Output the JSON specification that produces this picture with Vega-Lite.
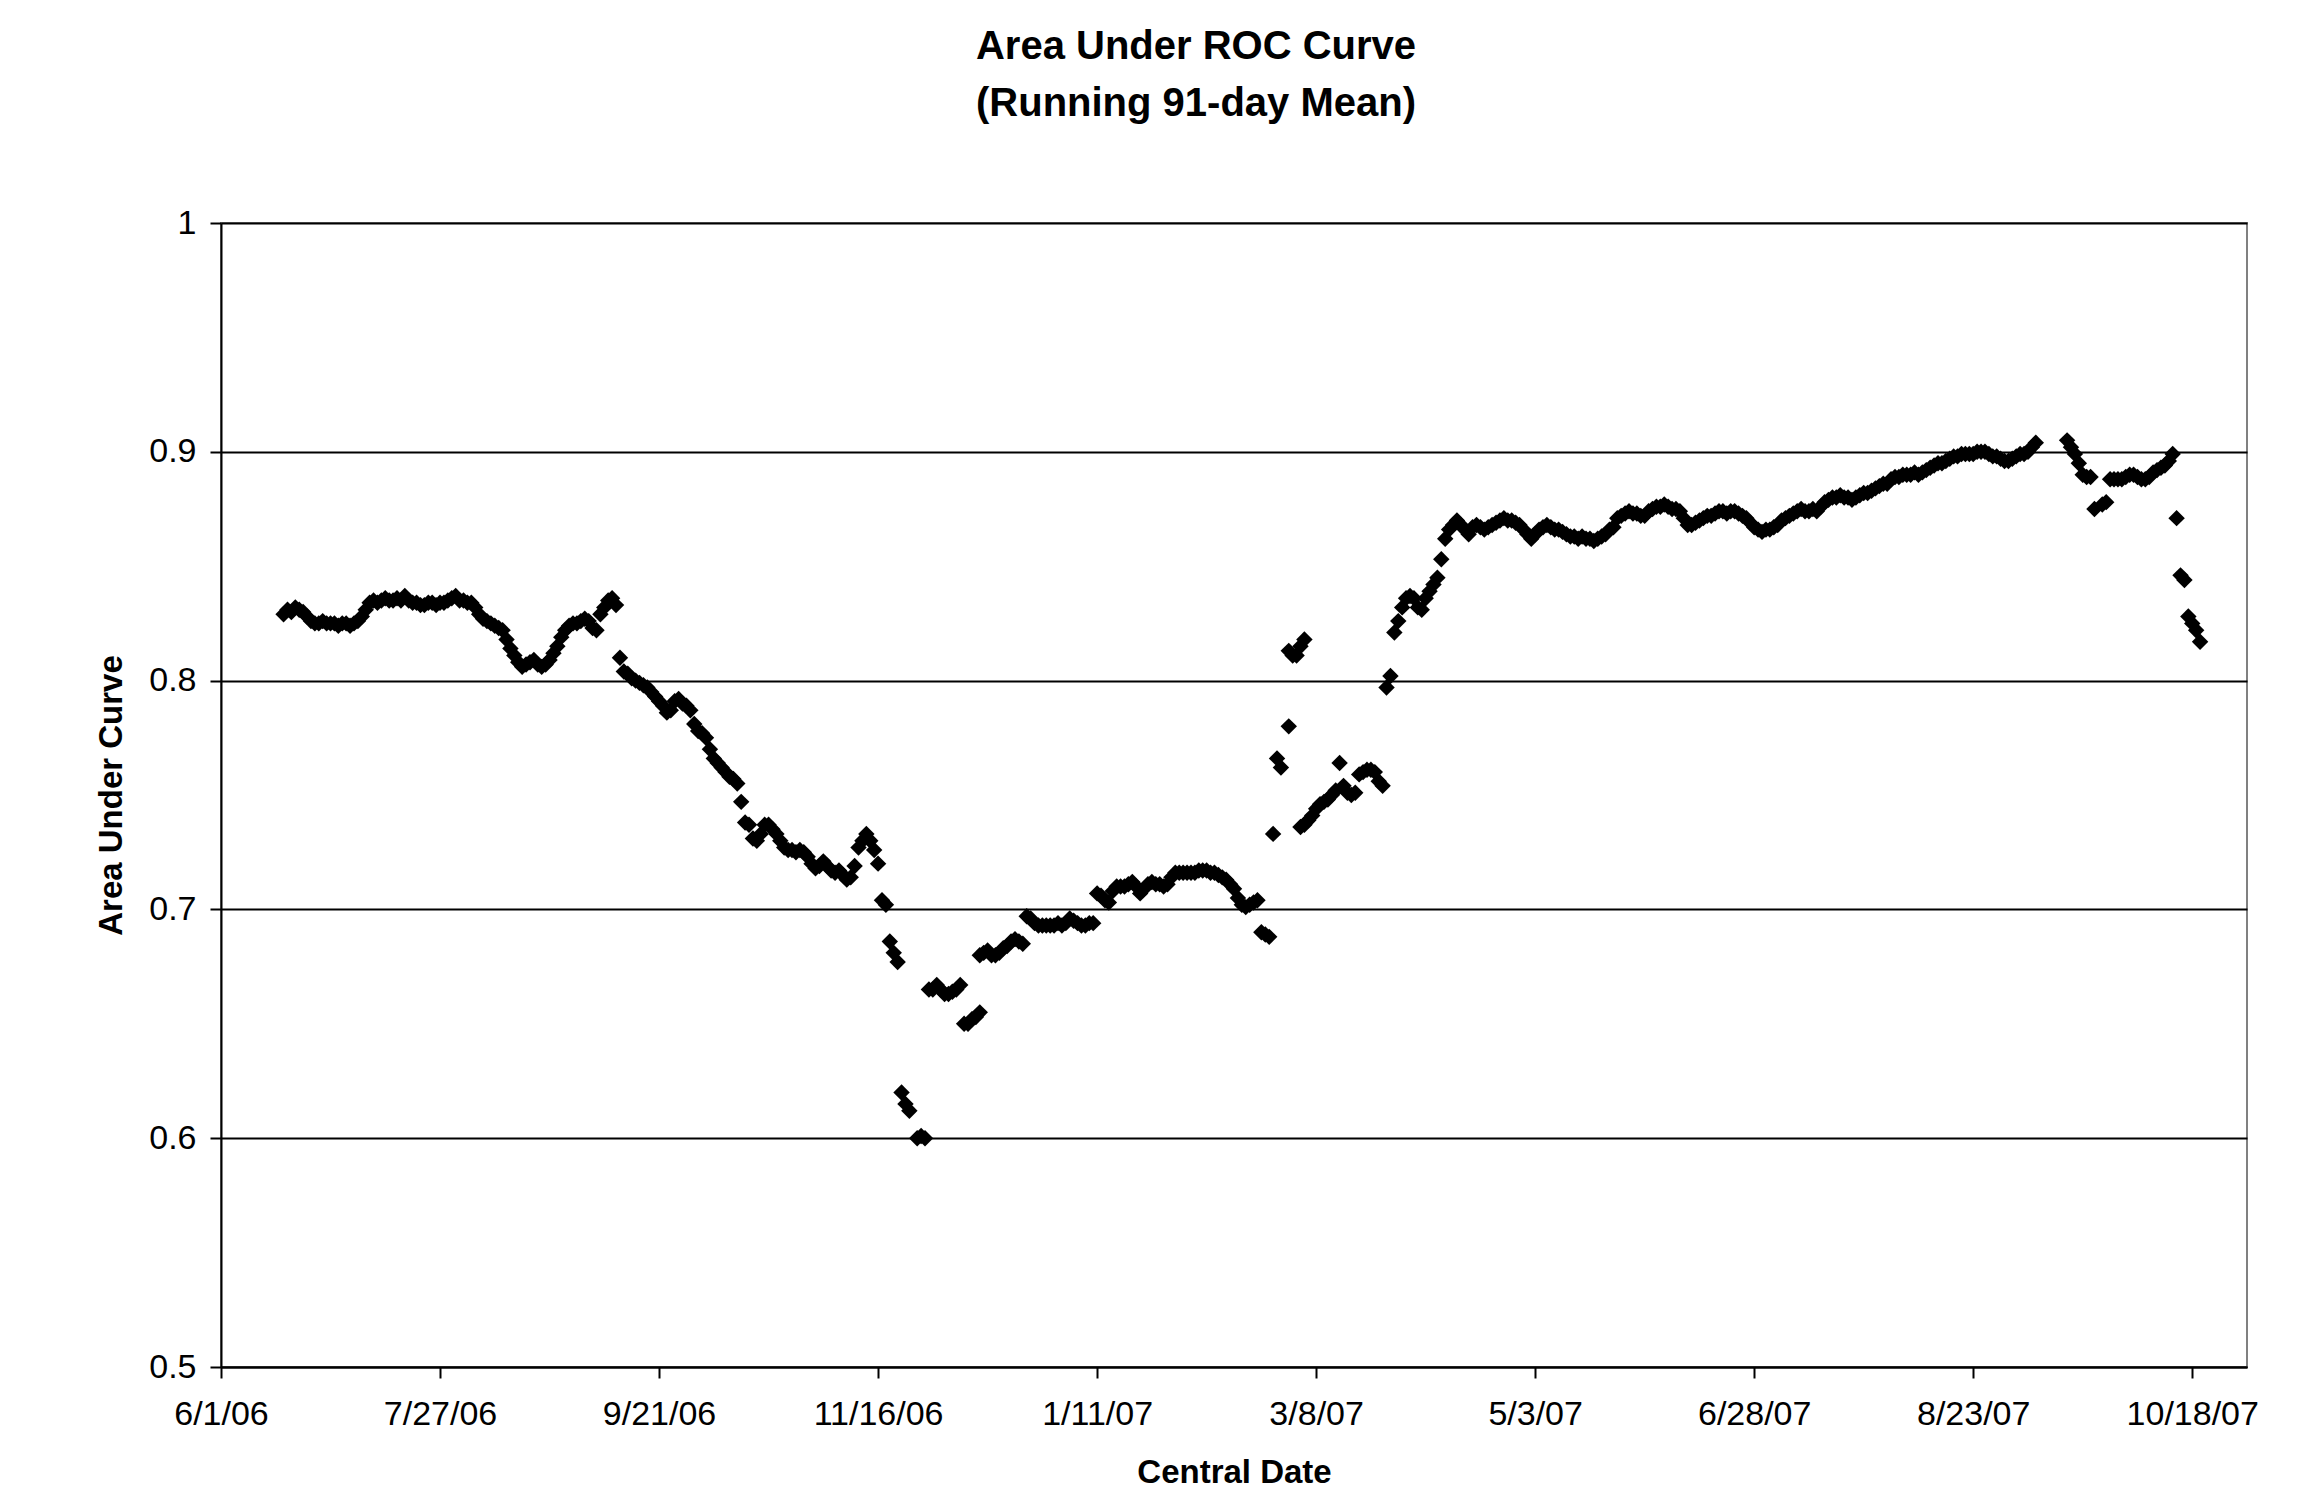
{
"$schema": "https://vega.github.io/schema/vega-lite/v6.json",
"width": 2026, "height": 1144,
"autosize": {"type": "none"},
"padding": {"left": 221, "top": 223, "right": 51, "bottom": 121},
"background": "white",
"title": {"text": ["Area Under ROC Curve", "(Running 91-day Mean)"], "font": "Liberation Sans", "fontSize": 40, "fontWeight": "bold", "lineHeight": 57, "anchor": "middle", "dx": -38, "offset": 82, "color": "black"},
"config": {"view": {"stroke": "#808080", "strokeWidth": 2}},
"data": {"values": [
{"d":"2006-06-17","v":0.829},{"d":"2006-06-18","v":0.831},{"d":"2006-06-19","v":0.830},{"d":"2006-06-20","v":0.832},{"d":"2006-06-21","v":0.831},{"d":"2006-06-22","v":0.830},{"d":"2006-06-23","v":0.828},{"d":"2006-06-24","v":0.826},{"d":"2006-06-25","v":0.825},{"d":"2006-06-26","v":0.825},{"d":"2006-06-27","v":0.826},{"d":"2006-06-28","v":0.825},{"d":"2006-06-29","v":0.825},{"d":"2006-06-30","v":0.825},
{"d":"2006-07-01","v":0.824},{"d":"2006-07-02","v":0.825},{"d":"2006-07-03","v":0.825},{"d":"2006-07-04","v":0.824},{"d":"2006-07-05","v":0.825},{"d":"2006-07-06","v":0.826},{"d":"2006-07-07","v":0.828},{"d":"2006-07-08","v":0.831},{"d":"2006-07-09","v":0.834},{"d":"2006-07-10","v":0.835},{"d":"2006-07-11","v":0.834},{"d":"2006-07-12","v":0.835},{"d":"2006-07-13","v":0.836},{"d":"2006-07-14","v":0.835},{"d":"2006-07-15","v":0.835},{"d":"2006-07-16","v":0.836},{"d":"2006-07-17","v":0.835},{"d":"2006-07-18","v":0.837},{"d":"2006-07-19","v":0.835},{"d":"2006-07-20","v":0.834},{"d":"2006-07-21","v":0.834},{"d":"2006-07-22","v":0.833},{"d":"2006-07-23","v":0.833},{"d":"2006-07-24","v":0.834},{"d":"2006-07-25","v":0.834},{"d":"2006-07-26","v":0.833},{"d":"2006-07-27","v":0.834},{"d":"2006-07-28","v":0.834},{"d":"2006-07-29","v":0.835},{"d":"2006-07-30","v":0.836},{"d":"2006-07-31","v":0.837},
{"d":"2006-08-01","v":0.835},{"d":"2006-08-02","v":0.835},{"d":"2006-08-03","v":0.834},{"d":"2006-08-04","v":0.834},{"d":"2006-08-05","v":0.832},{"d":"2006-08-06","v":0.829},{"d":"2006-08-07","v":0.827},{"d":"2006-08-08","v":0.826},{"d":"2006-08-09","v":0.825},{"d":"2006-08-10","v":0.824},{"d":"2006-08-11","v":0.823},{"d":"2006-08-12","v":0.822},{"d":"2006-08-13","v":0.818},{"d":"2006-08-14","v":0.814},{"d":"2006-08-15","v":0.811},{"d":"2006-08-16","v":0.808},{"d":"2006-08-17","v":0.806},{"d":"2006-08-18","v":0.807},{"d":"2006-08-19","v":0.808},{"d":"2006-08-20","v":0.809},{"d":"2006-08-21","v":0.807},{"d":"2006-08-22","v":0.806},{"d":"2006-08-23","v":0.807},{"d":"2006-08-24","v":0.809},{"d":"2006-08-25","v":0.812},{"d":"2006-08-26","v":0.815},{"d":"2006-08-27","v":0.819},{"d":"2006-08-28","v":0.822},{"d":"2006-08-29","v":0.824},{"d":"2006-08-30","v":0.825},{"d":"2006-08-31","v":0.825},
{"d":"2006-09-01","v":0.826},{"d":"2006-09-02","v":0.827},{"d":"2006-09-03","v":0.826},{"d":"2006-09-04","v":0.823},{"d":"2006-09-05","v":0.822},{"d":"2006-09-06","v":0.829},{"d":"2006-09-07","v":0.832},{"d":"2006-09-08","v":0.835},{"d":"2006-09-09","v":0.836},{"d":"2006-09-10","v":0.833},
{"d":"2006-09-11","v":0.810},{"d":"2006-09-12","v":0.804},{"d":"2006-09-13","v":0.803},{"d":"2006-09-14","v":0.801},{"d":"2006-09-15","v":0.800},{"d":"2006-09-16","v":0.799},{"d":"2006-09-17","v":0.798},{"d":"2006-09-18","v":0.797},{"d":"2006-09-19","v":0.795},{"d":"2006-09-20","v":0.793},{"d":"2006-09-21","v":0.791},{"d":"2006-09-22","v":0.789},{"d":"2006-09-23","v":0.786},{"d":"2006-09-24","v":0.787},{"d":"2006-09-25","v":0.791},{"d":"2006-09-26","v":0.792},{"d":"2006-09-27","v":0.790},{"d":"2006-09-28","v":0.789},{"d":"2006-09-29","v":0.787},{"d":"2006-09-30","v":0.781},
{"d":"2006-10-01","v":0.778},{"d":"2006-10-02","v":0.777},{"d":"2006-10-03","v":0.775},{"d":"2006-10-04","v":0.770},{"d":"2006-10-05","v":0.766},{"d":"2006-10-06","v":0.764},{"d":"2006-10-07","v":0.762},{"d":"2006-10-08","v":0.760},{"d":"2006-10-09","v":0.758},{"d":"2006-10-10","v":0.757},{"d":"2006-10-11","v":0.755},{"d":"2006-10-12","v":0.747},
{"d":"2006-10-13","v":0.738},{"d":"2006-10-14","v":0.737},{"d":"2006-10-15","v":0.731},{"d":"2006-10-16","v":0.730},{"d":"2006-10-17","v":0.733},{"d":"2006-10-18","v":0.737},{"d":"2006-10-19","v":0.737},{"d":"2006-10-20","v":0.735},{"d":"2006-10-21","v":0.733},{"d":"2006-10-22","v":0.730},{"d":"2006-10-23","v":0.727},{"d":"2006-10-24","v":0.726},{"d":"2006-10-25","v":0.726},{"d":"2006-10-26","v":0.725},{"d":"2006-10-27","v":0.726},{"d":"2006-10-28","v":0.725},{"d":"2006-10-29","v":0.723},{"d":"2006-10-30","v":0.720},{"d":"2006-10-31","v":0.718},
{"d":"2006-11-01","v":0.719},{"d":"2006-11-02","v":0.721},{"d":"2006-11-03","v":0.719},{"d":"2006-11-04","v":0.717},{"d":"2006-11-05","v":0.716},{"d":"2006-11-06","v":0.717},{"d":"2006-11-07","v":0.715},{"d":"2006-11-08","v":0.713},{"d":"2006-11-09","v":0.714},{"d":"2006-11-10","v":0.719},{"d":"2006-11-11","v":0.727},{"d":"2006-11-12","v":0.730},{"d":"2006-11-13","v":0.733},{"d":"2006-11-14","v":0.730},{"d":"2006-11-15","v":0.726},{"d":"2006-11-16","v":0.720},{"d":"2006-11-17","v":0.704},{"d":"2006-11-18","v":0.702},{"d":"2006-11-19","v":0.686},{"d":"2006-11-20","v":0.681},{"d":"2006-11-21","v":0.677},
{"d":"2006-11-22","v":0.620},{"d":"2006-11-23","v":0.615},{"d":"2006-11-24","v":0.612},{"d":"2006-11-26","v":0.600},{"d":"2006-11-27","v":0.601},{"d":"2006-11-28","v":0.600},
{"d":"2006-11-29","v":0.665},{"d":"2006-11-30","v":0.665},{"d":"2006-12-01","v":0.667},{"d":"2006-12-02","v":0.665},{"d":"2006-12-03","v":0.663},{"d":"2006-12-04","v":0.663},{"d":"2006-12-05","v":0.664},{"d":"2006-12-06","v":0.665},{"d":"2006-12-07","v":0.667},
{"d":"2006-12-08","v":0.650},{"d":"2006-12-09","v":0.650},{"d":"2006-12-10","v":0.652},{"d":"2006-12-11","v":0.653},{"d":"2006-12-12","v":0.655},
{"d":"2006-12-12","v":0.680},{"d":"2006-12-13","v":0.681},{"d":"2006-12-14","v":0.682},{"d":"2006-12-15","v":0.680},{"d":"2006-12-16","v":0.680},{"d":"2006-12-17","v":0.681},{"d":"2006-12-18","v":0.683},{"d":"2006-12-19","v":0.684},{"d":"2006-12-20","v":0.686},{"d":"2006-12-21","v":0.687},{"d":"2006-12-22","v":0.686},{"d":"2006-12-23","v":0.685},
{"d":"2006-12-24","v":0.697},{"d":"2006-12-25","v":0.696},{"d":"2006-12-26","v":0.694},{"d":"2006-12-27","v":0.693},{"d":"2006-12-28","v":0.693},{"d":"2006-12-29","v":0.693},{"d":"2006-12-30","v":0.693},{"d":"2006-12-31","v":0.693},{"d":"2007-01-01","v":0.694},{"d":"2007-01-02","v":0.693},{"d":"2007-01-03","v":0.694},{"d":"2007-01-04","v":0.696},{"d":"2007-01-05","v":0.695},{"d":"2007-01-06","v":0.694},{"d":"2007-01-07","v":0.693},{"d":"2007-01-08","v":0.693},{"d":"2007-01-09","v":0.694},{"d":"2007-01-10","v":0.694},
{"d":"2007-01-11","v":0.707},{"d":"2007-01-12","v":0.706},{"d":"2007-01-13","v":0.704},{"d":"2007-01-14","v":0.703},{"d":"2007-01-15","v":0.708},{"d":"2007-01-16","v":0.710},{"d":"2007-01-17","v":0.710},{"d":"2007-01-18","v":0.710},{"d":"2007-01-19","v":0.711},{"d":"2007-01-20","v":0.712},{"d":"2007-01-21","v":0.710},{"d":"2007-01-22","v":0.707},{"d":"2007-01-23","v":0.709},{"d":"2007-01-24","v":0.711},{"d":"2007-01-25","v":0.712},{"d":"2007-01-26","v":0.711},{"d":"2007-01-27","v":0.711},{"d":"2007-01-28","v":0.710},{"d":"2007-01-29","v":0.711},{"d":"2007-01-30","v":0.714},{"d":"2007-01-31","v":0.716},
{"d":"2007-02-01","v":0.716},{"d":"2007-02-02","v":0.716},{"d":"2007-02-03","v":0.716},{"d":"2007-02-04","v":0.716},{"d":"2007-02-05","v":0.716},{"d":"2007-02-06","v":0.717},{"d":"2007-02-07","v":0.717},{"d":"2007-02-08","v":0.717},{"d":"2007-02-09","v":0.716},{"d":"2007-02-10","v":0.716},{"d":"2007-02-11","v":0.715},{"d":"2007-02-12","v":0.714},{"d":"2007-02-13","v":0.713},{"d":"2007-02-14","v":0.711},{"d":"2007-02-15","v":0.709},{"d":"2007-02-16","v":0.705},{"d":"2007-02-17","v":0.702},{"d":"2007-02-18","v":0.701},{"d":"2007-02-19","v":0.702},{"d":"2007-02-20","v":0.703},{"d":"2007-02-21","v":0.704},
{"d":"2007-02-22","v":0.690},{"d":"2007-02-23","v":0.689},{"d":"2007-02-24","v":0.688},
{"d":"2007-02-25","v":0.733},{"d":"2007-02-26","v":0.766},{"d":"2007-02-27","v":0.762},{"d":"2007-03-01","v":0.780},
{"d":"2007-03-01","v":0.813},{"d":"2007-03-02","v":0.811},{"d":"2007-03-03","v":0.811},{"d":"2007-03-04","v":0.815},{"d":"2007-03-05","v":0.818},
{"d":"2007-03-04","v":0.736},{"d":"2007-03-05","v":0.737},{"d":"2007-03-06","v":0.739},{"d":"2007-03-07","v":0.741},{"d":"2007-03-08","v":0.744},{"d":"2007-03-09","v":0.746},{"d":"2007-03-10","v":0.747},{"d":"2007-03-11","v":0.748},{"d":"2007-03-12","v":0.750},{"d":"2007-03-13","v":0.752},{"d":"2007-03-14","v":0.764},{"d":"2007-03-15","v":0.754},{"d":"2007-03-16","v":0.751},{"d":"2007-03-17","v":0.750},{"d":"2007-03-18","v":0.751},{"d":"2007-03-19","v":0.759},{"d":"2007-03-20","v":0.760},{"d":"2007-03-21","v":0.761},{"d":"2007-03-22","v":0.761},{"d":"2007-03-23","v":0.760},{"d":"2007-03-24","v":0.756},{"d":"2007-03-25","v":0.754},
{"d":"2007-03-26","v":0.797},{"d":"2007-03-27","v":0.802},{"d":"2007-03-28","v":0.821},{"d":"2007-03-29","v":0.826},{"d":"2007-03-30","v":0.832},{"d":"2007-03-31","v":0.836},{"d":"2007-04-01","v":0.837},{"d":"2007-04-02","v":0.836},{"d":"2007-04-03","v":0.832},{"d":"2007-04-04","v":0.831},{"d":"2007-04-05","v":0.836},{"d":"2007-04-06","v":0.839},{"d":"2007-04-07","v":0.842},{"d":"2007-04-08","v":0.845},{"d":"2007-04-09","v":0.853},{"d":"2007-04-10","v":0.862},{"d":"2007-04-11","v":0.866},{"d":"2007-04-12","v":0.868},{"d":"2007-04-13","v":0.870},{"d":"2007-04-14","v":0.868},{"d":"2007-04-15","v":0.866},{"d":"2007-04-16","v":0.864},{"d":"2007-04-17","v":0.867},{"d":"2007-04-18","v":0.868},{"d":"2007-04-19","v":0.867},{"d":"2007-04-20","v":0.866},
{"d":"2007-04-21","v":0.867},{"d":"2007-04-22","v":0.868},{"d":"2007-04-23","v":0.869},{"d":"2007-04-24","v":0.870},{"d":"2007-04-25","v":0.871},{"d":"2007-04-26","v":0.870},{"d":"2007-04-27","v":0.870},{"d":"2007-04-28","v":0.869},{"d":"2007-04-29","v":0.868},{"d":"2007-04-30","v":0.866},{"d":"2007-05-01","v":0.864},{"d":"2007-05-02","v":0.862},{"d":"2007-05-03","v":0.864},{"d":"2007-05-04","v":0.866},{"d":"2007-05-05","v":0.867},{"d":"2007-05-06","v":0.868},{"d":"2007-05-07","v":0.867},{"d":"2007-05-08","v":0.866},{"d":"2007-05-09","v":0.866},{"d":"2007-05-10","v":0.865},{"d":"2007-05-11","v":0.864},{"d":"2007-05-12","v":0.863},{"d":"2007-05-13","v":0.863},{"d":"2007-05-14","v":0.862},{"d":"2007-05-15","v":0.863},{"d":"2007-05-16","v":0.862},{"d":"2007-05-17","v":0.862},{"d":"2007-05-18","v":0.861},{"d":"2007-05-19","v":0.862},{"d":"2007-05-20","v":0.863},{"d":"2007-05-21","v":0.864},{"d":"2007-05-22","v":0.866},{"d":"2007-05-23","v":0.867},{"d":"2007-05-24","v":0.871},{"d":"2007-05-25","v":0.872},{"d":"2007-05-26","v":0.873},{"d":"2007-05-27","v":0.874},{"d":"2007-05-28","v":0.873},{"d":"2007-05-29","v":0.873},{"d":"2007-05-30","v":0.872},{"d":"2007-05-31","v":0.872},
{"d":"2007-06-01","v":0.874},{"d":"2007-06-02","v":0.875},{"d":"2007-06-03","v":0.876},{"d":"2007-06-04","v":0.876},{"d":"2007-06-05","v":0.877},{"d":"2007-06-06","v":0.876},{"d":"2007-06-07","v":0.875},{"d":"2007-06-08","v":0.875},{"d":"2007-06-09","v":0.874},{"d":"2007-06-10","v":0.871},{"d":"2007-06-11","v":0.868},{"d":"2007-06-12","v":0.868},{"d":"2007-06-13","v":0.869},{"d":"2007-06-14","v":0.870},{"d":"2007-06-15","v":0.871},{"d":"2007-06-16","v":0.872},{"d":"2007-06-17","v":0.872},{"d":"2007-06-18","v":0.873},{"d":"2007-06-19","v":0.874},{"d":"2007-06-20","v":0.874},{"d":"2007-06-21","v":0.873},{"d":"2007-06-22","v":0.874},{"d":"2007-06-23","v":0.874},{"d":"2007-06-24","v":0.873},{"d":"2007-06-25","v":0.872},{"d":"2007-06-26","v":0.871},{"d":"2007-06-27","v":0.869},{"d":"2007-06-28","v":0.867},{"d":"2007-06-29","v":0.866},{"d":"2007-06-30","v":0.865},
{"d":"2007-07-01","v":0.866},{"d":"2007-07-02","v":0.866},{"d":"2007-07-03","v":0.867},{"d":"2007-07-04","v":0.868},{"d":"2007-07-05","v":0.870},{"d":"2007-07-06","v":0.871},{"d":"2007-07-07","v":0.872},{"d":"2007-07-08","v":0.873},{"d":"2007-07-09","v":0.874},{"d":"2007-07-10","v":0.875},{"d":"2007-07-11","v":0.874},{"d":"2007-07-12","v":0.874},{"d":"2007-07-13","v":0.875},{"d":"2007-07-14","v":0.874},{"d":"2007-07-15","v":0.876},{"d":"2007-07-16","v":0.878},{"d":"2007-07-17","v":0.879},{"d":"2007-07-18","v":0.880},{"d":"2007-07-19","v":0.880},{"d":"2007-07-20","v":0.881},{"d":"2007-07-21","v":0.880},{"d":"2007-07-22","v":0.880},{"d":"2007-07-23","v":0.879},{"d":"2007-07-24","v":0.880},{"d":"2007-07-25","v":0.881},{"d":"2007-07-26","v":0.882},{"d":"2007-07-27","v":0.882},{"d":"2007-07-28","v":0.883},{"d":"2007-07-29","v":0.884},{"d":"2007-07-30","v":0.885},{"d":"2007-07-31","v":0.886},
{"d":"2007-08-01","v":0.886},{"d":"2007-08-02","v":0.888},{"d":"2007-08-03","v":0.889},{"d":"2007-08-04","v":0.889},{"d":"2007-08-05","v":0.890},{"d":"2007-08-06","v":0.890},{"d":"2007-08-07","v":0.890},{"d":"2007-08-08","v":0.891},{"d":"2007-08-09","v":0.890},{"d":"2007-08-10","v":0.891},{"d":"2007-08-11","v":0.892},{"d":"2007-08-12","v":0.893},{"d":"2007-08-13","v":0.894},{"d":"2007-08-14","v":0.895},{"d":"2007-08-15","v":0.895},{"d":"2007-08-16","v":0.896},{"d":"2007-08-17","v":0.897},{"d":"2007-08-18","v":0.898},{"d":"2007-08-19","v":0.898},{"d":"2007-08-20","v":0.899},{"d":"2007-08-21","v":0.899},{"d":"2007-08-22","v":0.899},{"d":"2007-08-23","v":0.899},{"d":"2007-08-24","v":0.900},{"d":"2007-08-25","v":0.900},{"d":"2007-08-26","v":0.900},{"d":"2007-08-27","v":0.899},{"d":"2007-08-28","v":0.898},{"d":"2007-08-29","v":0.898},{"d":"2007-08-30","v":0.897},{"d":"2007-08-31","v":0.896},
{"d":"2007-09-01","v":0.896},{"d":"2007-09-02","v":0.897},{"d":"2007-09-03","v":0.898},{"d":"2007-09-04","v":0.899},{"d":"2007-09-05","v":0.899},{"d":"2007-09-06","v":0.900},{"d":"2007-09-07","v":0.902},{"d":"2007-09-08","v":0.904},
{"d":"2007-09-16","v":0.905},{"d":"2007-09-17","v":0.902},{"d":"2007-09-18","v":0.899},{"d":"2007-09-19","v":0.895},{"d":"2007-09-20","v":0.890},{"d":"2007-09-21","v":0.889},{"d":"2007-09-22","v":0.889},
{"d":"2007-09-23","v":0.875},{"d":"2007-09-25","v":0.877},{"d":"2007-09-26","v":0.878},
{"d":"2007-09-27","v":0.888},{"d":"2007-09-28","v":0.888},{"d":"2007-09-29","v":0.888},{"d":"2007-09-30","v":0.888},{"d":"2007-10-01","v":0.889},{"d":"2007-10-02","v":0.890},{"d":"2007-10-03","v":0.890},{"d":"2007-10-04","v":0.889},{"d":"2007-10-05","v":0.888},{"d":"2007-10-06","v":0.888},{"d":"2007-10-07","v":0.889},{"d":"2007-10-08","v":0.891},{"d":"2007-10-09","v":0.892},{"d":"2007-10-10","v":0.893},{"d":"2007-10-11","v":0.894},{"d":"2007-10-12","v":0.896},{"d":"2007-10-13","v":0.899},
{"d":"2007-10-14","v":0.871},{"d":"2007-10-15","v":0.846},{"d":"2007-10-16","v":0.844},{"d":"2007-10-17","v":0.828},{"d":"2007-10-18","v":0.825},{"d":"2007-10-19","v":0.822},{"d":"2007-10-20","v":0.817}
]},
"mark": {"type": "point", "shape": "diamond", "filled": true, "color": "black", "opacity": 1, "size": 270},
"encoding": {
"x": {"field": "d", "type": "temporal",
 "scale": {"type": "utc", "domain": [{"year": 2006, "month": 6, "date": 1, "utc": true}, {"year": 2007, "month": 11, "date": 1, "utc": true}]},
 "axis": {"values": [
  {"year": 2006, "month": 6, "date": 1, "utc": true},
  {"year": 2006, "month": 7, "date": 27, "utc": true},
  {"year": 2006, "month": 9, "date": 21, "utc": true},
  {"year": 2006, "month": 11, "date": 16, "utc": true},
  {"year": 2007, "month": 1, "date": 11, "utc": true},
  {"year": 2007, "month": 3, "date": 8, "utc": true},
  {"year": 2007, "month": 5, "date": 3, "utc": true},
  {"year": 2007, "month": 6, "date": 28, "utc": true},
  {"year": 2007, "month": 8, "date": 23, "utc": true},
  {"year": 2007, "month": 10, "date": 18, "utc": true}],
  "labelExpr": "utcFormat(datum.value, '%-m/%-d/%y')",
  "grid": false, "domainColor": "black", "domainWidth": 2, "tickColor": "black", "tickWidth": 2, "tickSize": 11,
  "labelFont": "Liberation Sans", "labelFontSize": 34, "labelColor": "black", "labelPadding": 19, "labelFlush": false, "labelOverlap": false, "labelBound": false,
  "title": "Central Date", "titleFont": "Liberation Sans", "titleFontSize": 33, "titleFontWeight": "bold", "titleColor": "black", "titlePadding": 25}},
"y": {"field": "v", "type": "quantitative",
 "scale": {"domain": [0.5, 1], "zero": false},
 "axis": {"values": [0.5, 0.6, 0.7, 0.8, 0.9, 1], "format": ".1~f",
  "grid": true, "gridColor": "black", "gridWidth": 2, "domainColor": "black", "domainWidth": 2, "tickColor": "black", "tickWidth": 2, "tickSize": 11,
  "labelFont": "Liberation Sans", "labelFontSize": 34, "labelColor": "black", "labelPadding": 14, "labelFlush": false, "labelOverlap": false, "labelBound": false,
  "title": "Area Under Curve", "titleFont": "Liberation Sans", "titleFontSize": 33, "titleFontWeight": "bold", "titleColor": "black", "titlePadding": 20}}
}
}
